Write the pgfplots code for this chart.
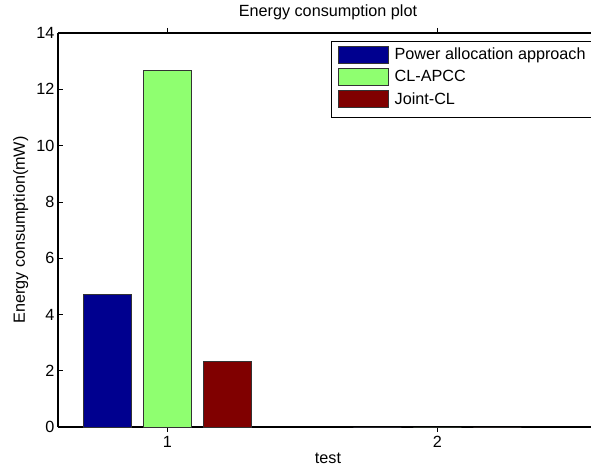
\documentclass[border=0pt]{standalone}
\usepackage{pgfplots}
\pgfplotsset{compat=1.18}
\usepackage{fontspec}
\setmainfont{Liberation Sans}
\definecolor{cblue}{RGB}{0,0,143}
\definecolor{cgreen}{RGB}{143,255,112}
\definecolor{cred}{RGB}{128,0,0}
\newcommand{\ff}{\fontsize{16.2}{19.4}\selectfont}
\begin{document}
\begin{tikzpicture}
\begin{axis}[
  name=ax,
  at={(0,0)}, anchor=south west,
  scale only axis,
  width=533.36pt, height=394pt,
  xmin=0.595, xmax=2.5704,
  ymin=0, ymax=14,
  axis y line*=left,
  xtick={1,2},
  ytick={0,2,...,14},
  tick align=inside,
  major tick length=5pt,
  tick style={black, line width=0.6pt},
  axis line style={black, line width=1.1pt},
  /pgf/number format/assume math mode=true,
  tick label style={font=\ff},
  xticklabel style={yshift=-1pt},
  title={Energy consumption plot},
  title style={font=\ff, at={(axis description cs:0.5062,1)}, anchor=base, yshift=10pt},
  xlabel={test},
  xlabel style={font=\ff, at={(axis description cs:0.5062,0)}, anchor=base, yshift=-36pt},
  ylabel={Energy consumption(mW)},
  ylabel style={font=\ff, at={(axis description cs:-0.0619,0.5)}, anchor=base},
  ybar, bar width=0.1778,
  legend style={font=\ff, draw=black, line width=0.8pt, at={(rel axis cs:0.5118,0.9797)}, anchor=north west,
     inner xsep=7pt, inner ysep=4.5pt, row sep=-0.5pt, cells={anchor=west}},
  legend image code/.code={\draw[#1, line width=0.6pt] (0pt,-8.5pt) rectangle (50pt,8.5pt);
     \path[draw=none, fill=none] (0pt,-14pt) -- (54pt,-14pt);},
]
\addplot[bar shift=0pt, fill=cblue, draw=black!80, line width=0.6pt] coordinates {(0.7778,4.70) (1.7778,0)};
\addplot[bar shift=0pt, fill=cgreen, draw=black!80, line width=0.6pt] coordinates {(1,12.66) (2,0)};
\addplot[bar shift=0pt, fill=cred, draw=black!80, line width=0.6pt] coordinates {(1.2222,2.33) (2.2222,0)};
\legend{Power allocation approach, CL-APCC, Joint-CL}
\end{axis}
\pgfresetboundingbox
\path[use as bounding box] ([shift={(-58pt,-39pt)}]ax.south west) rectangle ([shift={(533pt,427pt)}]ax.south west);
\end{tikzpicture}
\end{document}
